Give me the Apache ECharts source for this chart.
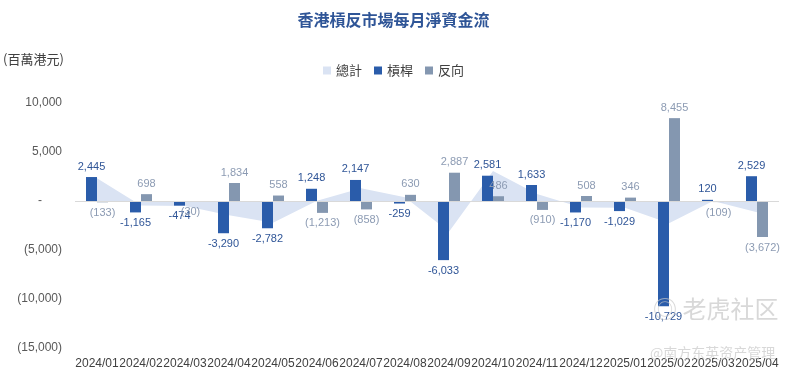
<!DOCTYPE html>
<html><head><meta charset="utf-8">
<script src="https://cdn.jsdelivr.net/npm/echarts@6/dist/echarts.min.js"></script>
<style>html,body{margin:0;padding:0;background:#fff}#c{width:787px;height:374px}</style>
</head><body><div id="c"></div>
<script>
const categories = ['2024/01','2024/02','2024/03','2024/04','2024/05','2024/06','2024/07','2024/08','2024/09','2024/10','2024/11','2024/12','2025/01','2025/02','2025/03','2025/04'];
const leveraged = [2445,-1165,-474,-3290,-2782,1248,2147,-259,-6033,2581,1633,-1170,-1029,-10729,120,2529];
const inverse = [-133,698,-30,1834,558,-1213,-858,630,2887,486,-910,508,346,8455,-109,-3672];
const total = [2312,-467,-504,-1456,-2224,35,1289,371,-3146,3067,723,-662,-683,-2274,11,-1143];
const seriesNames = ['總計','槓桿','反向'];

const fmt = v => Math.abs(v).toLocaleString('en-US');
const latin = '"Liberation Sans", "Noto Sans CJK TC", sans-serif';
const cjk = '"Noto Sans CJK TC", sans-serif';

function barData(vals, labelColor, neg) {
  return vals.map(v => ({
    value: v,
    label: {
      show: true,
      position: v >= 0 ? 'top' : 'bottom',
      distance: 5,
      color: labelColor,
      fontSize: 11,
      fontFamily: latin,
      formatter: () => v >= 0 ? fmt(v) : neg(v)
    }
  }));
}

const chart = echarts.init(document.getElementById('c'), null, {renderer: 'canvas'});
chart.setOption({
  animation: false,
  title: {
    text: '香港槓反市場每月淨資金流',
    left: 'center', top: 7,
    textStyle: {color: '#2f5597', fontSize: 16, fontWeight: 'bold', fontFamily: cjk}
  },
  legend: {
    top: 59, left: 'center',
    itemWidth: 8, itemHeight: 8, itemGap: 12,
    textStyle: {color: '#404040', fontSize: 13, fontFamily: cjk},
    data: [
      {name: seriesNames[0], icon: 'rect'},
      {name: seriesNames[1], icon: 'rect'},
      {name: seriesNames[2], icon: 'rect'}
    ]
  },
  graphic: [
    {type: 'text', left: 3, top: 53, style: {text: '(百萬港元)', fill: '#404040', font: '13px "Noto Sans CJK TC", sans-serif'}},
    {type: 'text', left: 653, top: 297, style: {text: '◎ 老虎社区', fill: 'rgba(200,200,200,0.7)', font: '24px "Noto Sans CJK SC", sans-serif'}, z: 100},
    {type: 'text', left: 650, top: 346, style: {text: '@南方东英资产管理', fill: 'rgba(200,200,200,0.7)', font: '14px "Noto Sans CJK SC", sans-serif'}, z: 100}
  ],
  grid: {left: 75, right: 8, top: 103, bottom: 26},
  xAxis: {
    type: 'category',
    data: categories,
    axisLine: {show: false, onZero: false},
    axisTick: {show: false},
    axisLabel: {interval: 0, color: '#404040', fontSize: 12, fontFamily: latin, margin: 10}
  },
  yAxis: {
    type: 'value', min: -15000, max: 10000, interval: 5000,
    splitLine: {show: false},
    axisLine: {show: false}, axisTick: {show: false},
    axisLabel: {
      color: '#595959', fontSize: 12, fontFamily: latin, margin: 13,
      formatter: v => v === 0 ? '-      ' : (v > 0 ? fmt(v) : '(' + fmt(v) + ')')
    }
  },
  series: [
    {
      name: seriesNames[0], type: 'line', data: total,
      symbol: 'none', lineStyle: {width: 0}, itemStyle: {color: '#dae3f3'},
      areaStyle: {color: '#dae3f3', opacity: 1}, z: 1,
      markLine: {silent: true, symbol: 'none', label: {show: false},
        lineStyle: {color: '#d9d9d9', type: 'solid', width: 1}, data: [{yAxis: 0}]}
    },
    {
      name: seriesNames[1], type: 'bar', barWidth: 11, barGap: '0%', z: 3,
      itemStyle: {color: '#2a5caa'},
      data: barData(leveraged, '#2f5597', v => '-' + fmt(v))
    },
    {
      name: seriesNames[2], type: 'bar', barWidth: 11, barGap: '0%', z: 3,
      itemStyle: {color: '#8497b0'},
      data: barData(inverse, '#8c9bb3', v => '(' + fmt(v) + ')')
    }
  ]
});
</script></body></html>
